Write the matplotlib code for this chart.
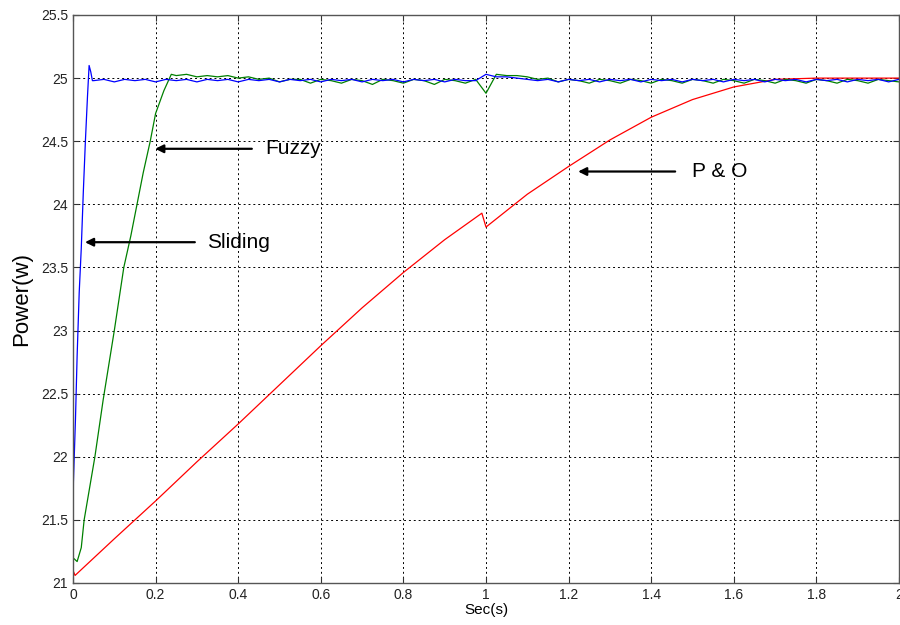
import numpy as np
import matplotlib.pyplot as plt

plt.rcParams['font.family'] = ['Liberation Sans', 'DejaVu Sans']

# Sliding mode controller: start-up transient, then steady state sampled every 25 ms
sliding_t0 = [0, 0.001, 0.003, 0.006, 0.01, 0.015, 0.02, 0.025, 0.03, 0.035, 0.039, 0.043, 0.047]
sliding_p0 = [21.25, 21.8, 22.0, 22.3, 22.8, 23.3, 23.65, 24.1, 24.5, 24.85, 25.1, 25.05, 24.98]
sliding_ss = [
    24.98, 24.99, 24.97, 24.99, 24.98, 24.99, 24.97, 24.99, 24.98, 24.99,
    24.97, 24.99, 24.98, 24.99, 24.97, 24.99, 24.98, 24.99, 24.97, 24.99,
    24.98, 24.99, 24.97, 24.99, 24.98, 24.99, 24.97, 24.99, 24.98, 24.99,
    24.97, 24.99, 24.98, 24.99, 24.97, 24.99, 24.98, 24.98, 25.03, 25.01,
    25.01, 25.00, 24.99, 24.98, 24.99, 24.97, 24.99, 24.98, 24.99, 24.97,
    24.99, 24.98, 24.99, 24.97, 24.99, 24.98, 24.99, 24.97, 24.99, 24.98,
    24.99, 24.97, 24.99, 24.98, 24.99, 24.97, 24.99, 24.98, 24.99, 24.97,
    24.99, 24.98, 24.99, 24.97, 24.99, 24.98, 24.99, 24.97, 24.99,
]

# Fuzzy controller
fuzzy_t0 = [0, 0.01, 0.02, 0.027, 0.04, 0.053, 0.073, 0.1, 0.123, 0.14, 0.155, 0.17, 0.187, 0.2, 0.22, 0.238]
fuzzy_p0 = [21.2, 21.17, 21.28, 21.5, 21.75, 22.0, 22.45, 23.0, 23.5, 23.75, 24.0, 24.25, 24.5, 24.72, 24.9, 25.03]
fuzzy_ss = [
    25.02, 25.03, 25.01, 25.02, 25.01, 25.02, 25.00, 25.01, 24.99, 25.00,
    24.97, 24.99, 24.99, 24.96, 24.99, 24.98, 24.96, 24.99, 24.98, 24.95,
    24.99, 24.98, 24.96, 24.99, 24.98, 24.95, 24.99, 24.98, 24.96, 24.99,
    24.88, 25.03, 25.02, 25.02, 25.01, 24.99, 25.00, 24.97, 24.99, 24.98,
    24.96, 24.99, 24.98, 24.96, 24.99, 24.98, 24.96, 24.99, 24.98, 24.96,
    24.99, 24.98, 24.96, 24.99, 24.98, 24.96, 24.99, 24.98, 24.96, 24.99,
    24.98, 24.96, 24.99, 24.98, 24.96, 24.99, 24.98, 24.96, 24.99, 24.98,
    24.97,
]

# Perturb & Observe
po_t = [0, 0.005, 0.1, 0.2, 0.3, 0.4, 0.5, 0.6, 0.7, 0.8, 0.9, 0.99, 1.0,
        1.1, 1.2, 1.3, 1.4, 1.5, 1.6, 1.7, 1.8, 1.9, 2.0]
po_p = [21.1, 21.06, 21.35, 21.65, 21.96, 22.26, 22.57, 22.88, 23.18, 23.46, 23.72, 23.93, 23.82,
        24.08, 24.3, 24.51, 24.69, 24.83, 24.93, 24.99, 25.0, 25.0, 25.0]

sliding_t = np.concatenate([sliding_t0, 0.05 + 0.025 * np.arange(len(sliding_ss))])
sliding_p = np.concatenate([sliding_p0, sliding_ss])
fuzzy_t = np.concatenate([fuzzy_t0, 0.25 + 0.025 * np.arange(len(fuzzy_ss))])
fuzzy_p = np.concatenate([fuzzy_p0, fuzzy_ss])

fig = plt.figure(figsize=(9, 6.25), dpi=100)
ax = fig.add_axes([73 / 900, 42 / 625, 826 / 900, 568 / 625])

ax.plot(po_t, po_p, color='#ff0000', lw=0.9)
ax.plot(fuzzy_t, fuzzy_p, color='#008000', lw=0.9)
ax.plot(sliding_t, sliding_p, color='#0000ff', lw=0.9)

ax.set_xlim(0, 2)
ax.set_ylim(21, 25.5)
ax.set_xticks(np.arange(0, 2.01, 0.2))
ax.set_xticklabels(['0', '0.2', '0.4', '0.6', '0.8', '1', '1.2', '1.4', '1.6', '1.8', '2'])
ax.set_yticks(np.arange(21, 25.51, 0.5))
ax.set_yticklabels(['21', '21.5', '22', '22.5', '23', '23.5', '24', '24.5', '25', '25.5'])
ax.grid(True, color='black', linestyle=(0, (2, 3)), linewidth=0.7)
ax.tick_params(direction='in', length=4, labelsize=10, color='#333333',
               top=True, right=True, labelcolor='#222222')
for s in ax.spines.values():
    s.set_color('#555555')
    s.set_linewidth(1.0)

ax.set_xlabel('Sec(s)', fontsize=11, labelpad=1)
ax.set_ylabel('Power(w)', fontsize=16, labelpad=6)

# labels with arrows pointing at each curve
arrow = dict(arrowstyle='-|>', color='black', lw=1.6, mutation_scale=12, shrinkA=0, shrinkB=0)
ax.annotate('', xy=(0.199, 24.44), xytext=(0.433, 24.44), arrowprops=arrow)
ax.text(0.465, 24.44, 'Fuzzy', fontsize=15, va='center', ha='left')
ax.annotate('', xy=(0.029, 23.70), xytext=(0.295, 23.70), arrowprops=arrow)
ax.text(0.324, 23.70, 'Sliding', fontsize=15, va='center', ha='left')
ax.annotate('', xy=(1.223, 24.26), xytext=(1.458, 24.26), arrowprops=arrow)
ax.text(1.499, 24.26, 'P & O', fontsize=15, va='center', ha='left')

fig.savefig('out.png', dpi=100)
